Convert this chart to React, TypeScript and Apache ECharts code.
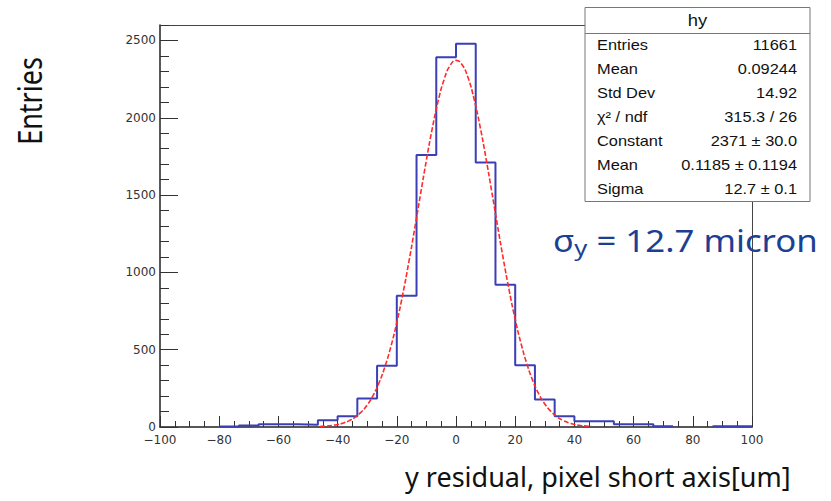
import React, { useEffect, useRef } from "react";
import * as echarts from "echarts";

// ---- data ----
const BIN_LOW = -100;
const BIN_HIGH = 100;
const binCounts = [
  0, 0, 0, 3, 9, 17, 17, 15, 43, 70,
  184, 396, 849, 1760, 2392, 2478, 1710, 920, 400, 178,
  70, 37, 37, 17, 17, 5, 0, 0, 5, 5,
];
const fitX = [
  -46, -44, -42, -40, -38, -36, -34, -32, -30, -28, -26, -24, -22, -20, -18, -16,
  -14, -12, -10, -8, -6, -4, -2, 0, 2, 4, 6, 8, 10, 12, 14, 16, 18, 20, 22, 24,
  26, 28, 30, 32, 34, 36, 38, 40, 42, 44, 46,
];
const fitY = [
  3, 6, 10, 16, 26, 42, 64, 97, 142, 204, 286, 391, 520, 676, 857, 1060,
  1278, 1504, 1726, 1933, 2111, 2249, 2338, 2371, 2345, 2263, 2130, 1956, 1752, 1531, 1305, 1085, 880, 696, 538, 405,
  297, 213, 149, 102, 68, 44, 28, 17, 10, 6, 3,
];
const Y_MAX = 2600;
const Y_MAJOR_STEP = 500;
const Y_MINOR_STEP = 100;
const yMajorTicks = [0, 500, 1000, 1500, 2000, 2500];
const X_MAJOR_STEP = 20;
const statTitle = "hy";
const statLabels = ["Entries", "Mean", "Std Dev", "χ² / ndf", "Constant", "Mean", "Sigma"];
const statValues = ["11661", "0.09244", "14.92", "315.3 / 26", "2371 ± 30.0", "0.1185 ± 0.1194", "12.7 ± 0.1"];
const xTitle = "y residual, pixel short axis[um]";
const yTitle = "Entries";
const noteSymbol = "σ";
const noteSub = "y";
const noteText = " = 12.7 micron";

const ROOT_FONT = "DejaVu Sans";
const STAT_FONT = "Liberation Sans";
const OFFICE_FONT = "Noto Sans";

export default function App() {
  const ref = useRef<HTMLDivElement>(null);

  useEffect(() => {
    if (!ref.current) return;
    const chart = echarts.init(ref.current, undefined, { renderer: "svg" });

    const binWidth = (BIN_HIGH - BIN_LOW) / binCounts.length;
    const histData: any[] = [];
    binCounts.forEach((c, i) => {
      const lo = BIN_LOW + i * binWidth;
      if (c > 0) {
        histData.push([lo, c]);
        const next = binCounts[i + 1];
        if (!(next > 0)) {
          histData.push([lo + binWidth, c]);
          histData.push([lo + binWidth, "-"]);
        }
      }
    });
    const fitData = fitX.map((x, i) => [x, fitY[i]]);

    const axisColor = "#222";
    const tickColor = "#333";
    const labelStyle = { color: "#333", fontFamily: ROOT_FONT, fontSize: 12, lineHeight: 12 };
    const frameLine = { show: true, onZero: false, lineStyle: { color: "#444", width: 1 } };
    const noTicks = { show: false };

    const statsLeft = 585;
    const statsRight = 810;
    const statsTop = 7.5;
    const statsBottom = 201.5;
    const rowY0 = 44.5;
    const rowStep = 24;

    const statTexts: any[] = [];
    statLabels.forEach((l, i) => {
      statTexts.push({
        type: "text",
        x: 597,
        y: rowY0 + i * rowStep,
        scaleX: 1.17,
        z: 102,
        style: { text: l, x: 0, y: 0, align: "left", verticalAlign: "middle", fontFamily: STAT_FONT, fontSize: 14, fill: "#111" },
      });
      statTexts.push({
        type: "text",
        x: 797,
        y: rowY0 + i * rowStep,
        scaleX: 1.17,
        z: 102,
        style: { text: statValues[i], x: 0, y: 0, align: "right", verticalAlign: "middle", fontFamily: STAT_FONT, fontSize: 14, fill: "#111" },
      });
    });

    chart.setOption({
      animation: false,
      backgroundColor: "#fff",
      grid: { left: 160, right: 79, top: 25, bottom: 74, show: false },
      xAxis: [
        {
          type: "value",
          position: "bottom",
          min: BIN_LOW,
          max: BIN_HIGH,
          interval: X_MAJOR_STEP,
          axisLine: { show: true, onZero: false, lineStyle: { color: axisColor, width: 1.5 } },
          axisTick: { show: true, inside: true, length: 11, lineStyle: { color: tickColor, width: 1 } },
          minorTick: { show: true, splitNumber: 4, length: 6, lineStyle: { color: tickColor, width: 1 } },
          axisLabel: {
            ...labelStyle,
            margin: 7,
            formatter: (v: number) => String(v).replace("-", "−"),
          },
          splitLine: { show: false },
          minorSplitLine: { show: false },
        },
        {
          type: "value",
          position: "top",
          min: BIN_LOW,
          max: BIN_HIGH,
          axisLine: frameLine,
          axisTick: noTicks,
          axisLabel: { show: false },
          splitLine: { show: false },
        },
      ],
      yAxis: [
        {
          type: "value",
          position: "left",
          min: 0,
          max: Y_MAX,
          interval: Y_MINOR_STEP,
          axisLine: { show: true, onZero: false, lineStyle: { color: axisColor, width: 1.5 } },
          axisTick: { show: true, inside: true, length: 9, lineStyle: { color: tickColor, width: 1 } },
          axisLabel: {
            ...labelStyle,
            margin: 4,
            formatter: (v: number) => (v % Y_MAJOR_STEP === 0 ? String(v) : ""),
          },
          splitLine: { show: false },
        },
        {
          type: "value",
          position: "left",
          min: 0,
          max: Y_MAX,
          interval: Y_MAJOR_STEP,
          axisLine: { show: false, onZero: false },
          axisTick: { show: true, inside: true, length: 18, customValues: yMajorTicks, lineStyle: { color: tickColor, width: 1 } },
          axisLabel: { show: false },
          splitLine: { show: false },
        },
        {
          type: "value",
          position: "right",
          min: 0,
          max: Y_MAX,
          axisLine: frameLine,
          axisTick: noTicks,
          axisLabel: { show: false },
          splitLine: { show: false },
        },
      ],
      series: [
        {
          type: "line",
          data: histData,
          step: "end",
          symbol: "none",
          connectNulls: false,
          xAxisIndex: 0,
          yAxisIndex: 0,
          lineStyle: { color: "#3a3fb5", width: 2 },
          z: 3,
        },
        {
          type: "line",
          data: fitData,
          smooth: true,
          symbol: "none",
          xAxisIndex: 0,
          yAxisIndex: 0,
          lineStyle: { color: "#ff2a2a", width: 1.6, type: [5, 2] },
          z: 4,
        },
      ],
      graphic: [
        {
          type: "rect",
          z: 100,
          shape: { x: statsLeft, y: statsTop, width: statsRight - statsLeft, height: statsBottom - statsTop },
          style: { fill: "#fff", stroke: "#777", lineWidth: 1 },
        },
        {
          type: "line",
          z: 101,
          shape: { x1: statsLeft, y1: 33.5, x2: statsRight, y2: 33.5 },
          style: { stroke: "#777", lineWidth: 1 },
        },
        {
          type: "text",
          x: (statsLeft + statsRight) / 2,
          y: 20,
          scaleX: 1.15,
          z: 102,
          style: { text: statTitle, x: 0, y: 0, align: "center", verticalAlign: "middle", fontFamily: STAT_FONT, fontSize: 16, fill: "#111" },
        },
        ...statTexts,
        {
          type: "text",
          x: 553,
          y: 222.5,
          scaleX: 1.16,
          z: 103,
          style: {
            text: `{a|${noteSymbol}}{b|${noteSub}}{a|${noteText}}`,
            x: 0,
            y: 0,
            align: "left",
            verticalAlign: "top",
            fill: "#1c3f94",
            rich: {
              a: { fontFamily: OFFICE_FONT, fontSize: 30, lineHeight: 36, fill: "#1c3f94" },
              b: { fontFamily: OFFICE_FONT, fontSize: 22, lineHeight: 18, verticalAlign: "bottom", fill: "#1c3f94" },
            },
          },
        },
        {
          type: "text",
          x: 30,
          y: 101,
          rotation: Math.PI / 2,
          scaleY: 1.2,
          z: 103,
          style: { text: yTitle, x: 0, y: 0, align: "center", verticalAlign: "middle", fontFamily: OFFICE_FONT, fontSize: 27, fill: "#111" },
        },
        {
          type: "text",
          x: 405,
          y: 476.5,
          z: 103,
          style: { text: xTitle, x: 0, y: 0, align: "left", verticalAlign: "middle", fontFamily: OFFICE_FONT, fontSize: 27, fill: "#111" },
        },
      ],
    });

    return () => chart.dispose();
  }, []);

  return (
    <div
      ref={ref}
      style={{ position: "fixed", left: 0, top: 0, width: 831, height: 501, background: "#fff" }}
    />
  );
}
